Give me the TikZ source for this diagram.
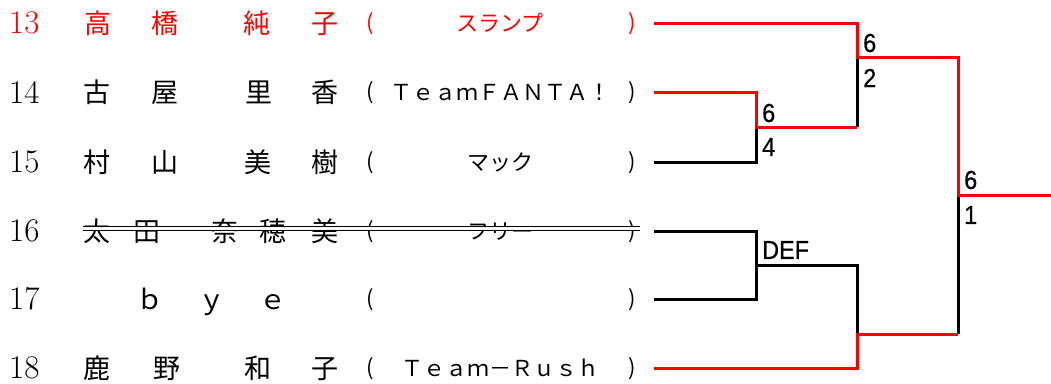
\documentclass[tikz,border=0pt]{standalone}
\usepackage{fontspec}
\newfontfamily\jpfont{Noto Sans CJK JP}
\newfontfamily\scfont[FakeStretch=0.9,FakeBold=0.6]{Liberation Sans}
\usetikzlibrary{positioning,calc}
\definecolor{winred}{HTML}{FF0000}
\tikzset{
  nm/.style={inner sep=0pt, anchor=base, yshift=-10pt, font=\jpfont\fontsize{27}{27}\selectfont},
  tm/.style={inner sep=0pt, anchor=base, yshift=-8pt, font=\jpfont\fontsize{22}{22}\selectfont},
  prn/.style={inner sep=0pt, anchor=base, yshift=-7pt, font=\jpfont\fontsize{22}{22}\selectfont},
  num/.style={inner sep=0pt, anchor=west, font=\fontsize{33}{33}\selectfont},
  sc/.style={inner sep=0pt, anchor=west, font=\scfont\fontsize{26}{26}\selectfont},
  ln/.style={line width=3pt, line join=miter},
  win/.style={ln, draw=winred}}
% one player row: y, tag, number, chars, team
\newcommand\plrow[5]{%
  \node[num] (no#2) at (9,#1) {#3};
  \foreach \cx/\cc [count=\ci] in {#4} \node[nm] (#2-\ci) at (\cx,#1) {\cc};
  \node[prn] (lp#2) at (370,#1) {(};
  \node[tm] (tm#2) at (500,#1) {#5};
  \node[prn] (rp#2) at (632,#1) {)};
  \coordinate (e#2) at (654,#1);}

\begin{document}
\begin{tikzpicture}[x=1pt, y=-1pt]
\useasboundingbox (0,0) rectangle (1051,383);
\begin{scope}[winred]
\plrow{23}{a}{13}{98/高,165/橋,257/純,325/子}{スランプ}
\end{scope}
\plrow{92}{b}{14}{97/古,165/屋,259/里,325/香}{ＴｅａｍＦＡＮＴＡ！}
\plrow{162}{c}{15}{97/村,165/山,258/美,325/樹}{マック}
\plrow{231}{d}{16}{97/太,147/田,225/奈,273/穂,325/美}{フリー}
\plrow{299}{e}{17}{150/ｂ,212/ｙ,273/ｅ}{}
\plrow{368}{f}{18}{97/鹿,167/野,258/和,325/子}{Ｔｅａｍ－Ｒｕｓｈ}
% withdrawn
\draw[double, double distance=3.5pt, line width=1pt] (83,228.5) -- (640,228.5);
% junctions
\coordinate (q1) at (756,127);
\coordinate (q2) at (756,265);
\coordinate (s1) at (857,57);
\coordinate (s2) at (857,334);
\coordinate (fn) at (958,195);
\coordinate (wn) at (1051,195);
% losers
\draw[ln] (ec) -| (q1);
\draw[ln] (q1 -| s1) -- (s1);
\draw[ln] (ed) -| (q2);
\draw[ln] (ee) -| (q2);
\draw[ln] (q2) -| (s2);
\draw[ln] (s2 -| fn) -- (fn);
% winners
\draw[win] (eb) -| (q1) -- (q1 -| s1);
\draw[win] (ea) -| (s1) -| (fn) -- (wn);
\draw[win] (ef) -| (s2) -- (s2 -| fn);
% scores
\path (q1) ++(6,-14) node[sc] (q1a) {6};
\path (q1) ++(6,20) node[sc] (q1b) {4};
\path (q2) ++(6,-15) node[sc] (q2a) {DEF};
\path (s1) ++(6,-14) node[sc] (s1a) {6};
\path (s1) ++(6,21) node[sc] (s1b) {2};
\path (fn) ++(6,-15) node[sc] (fna) {6};
\path (fn) ++(6,20) node[sc] (fnb) {1};
\end{tikzpicture}
\end{document}
